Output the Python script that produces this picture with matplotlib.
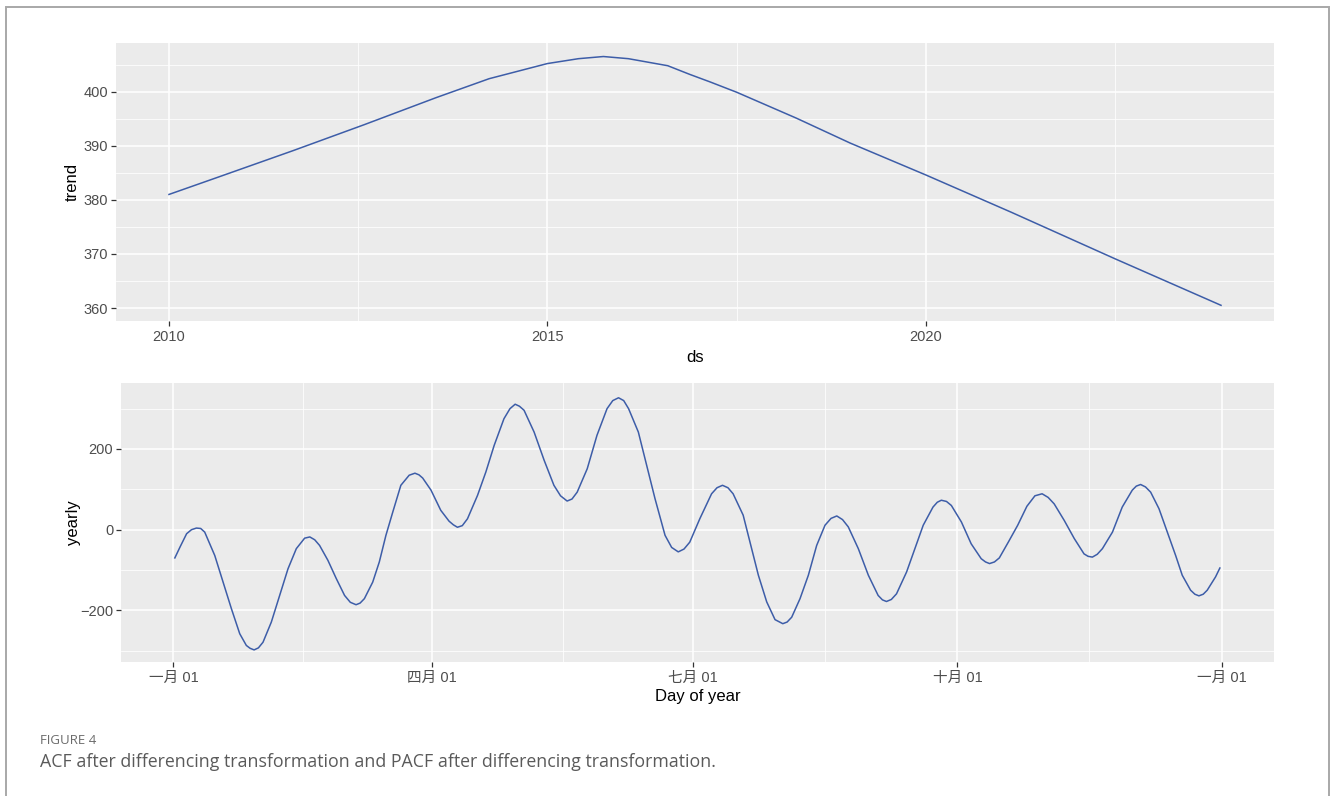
import matplotlib
matplotlib.use("Agg")
import matplotlib.pyplot as plt
from matplotlib.patches import Rectangle

# trend component (decimal year, value)
trend_year = [2010.0, 2010.65, 2011.64, 2012.58, 2013.53, 2014.23, 2015.0, 2015.41,
              2015.74, 2016.07, 2016.59, 2016.88, 2017.15, 2017.5, 2018.29, 2019.0,
              2020.0, 2021.13, 2022.5, 2023.9]
trend_val = [381.0, 384.2, 389.1, 393.9, 398.9, 402.4, 405.2, 406.1,
             406.5, 406.1, 404.8, 403.2, 401.8, 399.9, 395.1, 390.5,
             384.6, 377.7, 369.1, 360.5]

# yearly seasonality (day of year, value)
yearly_day = [0.5, 2.3, 4.6, 6.3, 8.0, 9.5, 10.9, 14.4, 17.3, 20.2, 23.1, 25.4, 26.7,
              28.1, 29.6, 31.2, 34.1, 37.0, 39.9, 42.8, 45.7, 47.5, 49.2, 50.9, 53.8,
              56.7, 59.6, 61.6, 63.6, 65.0, 66.5, 69.4, 71.7, 74.0, 76.4, 79.2, 82.1,
              84.1, 85.5, 86.8, 89.7, 93.1, 96.0, 97.5, 98.9, 100.6, 102.4, 105.9,
              108.8, 111.7, 115.1, 117.2, 119.0, 120.5, 122.1, 125.6, 129.1, 132.5,
              134.8, 137.1, 138.8, 140.6, 144.1, 147.5, 151.0, 153.0, 155.0, 156.8,
              158.5, 161.9, 164.8, 167.7, 171.2, 173.5, 175.8, 177.8, 179.8, 183.3,
              187.4, 189.3, 191.2, 193.1, 194.9, 198.4, 200.8, 203.7, 206.6, 209.5,
              212.2, 213.7, 215.3, 218.2, 221.1, 224.0, 226.9, 229.0, 231.0, 233.0,
              235.0, 238.5, 242.0, 245.4, 246.9, 248.3, 250.0, 251.8, 255.3, 258.2,
              261.1, 264.5, 266.0, 267.4, 269.2, 270.9, 274.4, 277.8, 281.3, 282.8,
              284.2, 285.9, 287.6, 290.8, 294.0, 297.2, 300.0, 302.5, 304.6, 306.7,
              310.2, 313.7, 317.1, 318.5, 320.0, 321.7, 323.5, 327.0, 330.4, 333.9,
              335.3, 336.8, 338.5, 340.3, 343.2, 346.1, 349.0, 351.3, 354.2, 355.7,
              357.1, 358.6, 360.0, 362.9, 364.4]
yearly_val = [-70, -43, -10, 0, 4, 3, -6, -64, -130, -196, -258, -287, -294,
              -298, -293, -279, -229, -163, -97, -47, -21, -18, -25, -39, -76,
              -121, -163, -180, -186, -182, -171, -130, -80, -14, 44, 110, 135,
              140, 136, 128, 98, 48, 21, 12, 6, 10, 27, 85,
              143, 209, 275, 300, 311, 306, 296, 242, 172, 110,
              84, 71, 76, 93, 151, 234, 300, 320, 327, 320,
              300, 242, 160, 77, -14, -44, -55, -48, -31, 27,
              89, 104, 110, 104, 89, 36, -31, -113, -179, -223,
              -233, -229, -217, -171, -113, -39, 11, 28, 34, 25,
              7, -47, -113, -163, -174, -178, -173, -159, -105, -47,
              11, 56, 68, 73, 70, 60, 19, -35, -72, -80,
              -84, -80, -70, -30, 11, 58, 84, 89, 80, 64,
              23, -22, -60, -66, -68, -61, -47, -6, 56, 98,
              108, 112, 106, 93, 52, -6, -64, -113, -150, -160,
              -164, -160, -150, -117, -95]

month_days = [0, 90, 181, 273, 365]
month_labels = ['一月 01', '四月 01', '七月 01', '十月 01', '一月 01']

plt.rcParams['font.family'] = ['Liberation Sans', 'Noto Sans CJK SC']

W, H = 1330, 796
fig = plt.figure(figsize=(W / 100, H / 100), dpi=100)
fig.patch.set_facecolor('white')

line_col = '#3D5DA8'
panel_bg = '#EBEBEB'


def gg_style(ax):
    ax.set_facecolor(panel_bg)
    for s in ax.spines.values():
        s.set_visible(False)
    ax.grid(which='major', color='white', lw=1.1)
    ax.grid(which='minor', color='white', lw=0.55)
    ax.set_axisbelow(True)
    ax.tick_params(which='major', length=3.5, width=0.9, color='#333333',
                   labelsize=10.5, labelcolor='#4D4D4D')
    ax.tick_params(axis='x', which='major', pad=3)
    ax.tick_params(axis='y', which='major', pad=2)
    ax.tick_params(which='minor', length=0)


# trend panel
ax1 = fig.add_axes([116 / W, 1 - 321 / H, 1158 / W, 278 / H])
gg_style(ax1)
ax1.plot(trend_year, trend_val, color=line_col, lw=1.1)
ax1.set_xlim(2009.3, 2024.6)
ax1.set_ylim(357.6, 409.0)
ax1.set_xticks([2010, 2015, 2020])
ax1.set_xticks([2012.5, 2017.5, 2022.5], minor=True)
ax1.set_yticks([360, 370, 380, 390, 400])
ax1.set_yticks([365, 375, 385, 395, 405], minor=True)
ax1.set_xlabel('ds', fontsize=12)
ax1.set_ylabel('trend', fontsize=12)
ax1.xaxis.set_label_coords(0.5, -0.13)
ax1.xaxis.label.set_va('center')
ax1.yaxis.set_label_coords(-0.038, 0.5)
ax1.yaxis.label.set_va('center')

# yearly panel
ax2 = fig.add_axes([121 / W, 1 - 662 / H, 1153 / W, 279 / H])
gg_style(ax2)
ax2.plot(yearly_day, yearly_val, color=line_col, lw=1.1)
ax2.set_xlim(-18.25, 383.25)
ax2.set_ylim(-328, 363.6)
ax2.set_xticks(month_days)
ax2.set_xticklabels(month_labels)
ax2.set_xticks([(a + b) / 2 for a, b in zip(month_days[:-1], month_days[1:])], minor=True)
ax2.set_yticks([-200, 0, 200])
ax2.set_yticks([-300, -100, 100, 300], minor=True)
ax2.set_xlabel('Day of year', fontsize=12)
ax2.set_ylabel('yearly', fontsize=12)
ax2.xaxis.set_label_coords(0.5, -0.125)
ax2.xaxis.label.set_va('center')
ax2.yaxis.set_label_coords(-0.0416, 0.5)
ax2.yaxis.label.set_va('center')

# caption
fig.text(40 / W, 1 - 740 / H, 'FIGURE 4', fontsize=9.5, color='#6b6b6b',
         family='Open Sans', va='center')
fig.text(40 / W, 1 - 762 / H,
         'ACF after differencing transformation and PACF after differencing transformation.',
         fontsize=12.8, color='#5a5a5a', family='Open Sans', va='center')

# frame round the figure
fig.add_artist(Rectangle((6 / W, -0.01), 1323 / W, 1.01 - 7 / H, transform=fig.transFigure,
                         fill=False, edgecolor='#a8a8a8', lw=1.4))

fig.savefig('out.png', dpi=100)
